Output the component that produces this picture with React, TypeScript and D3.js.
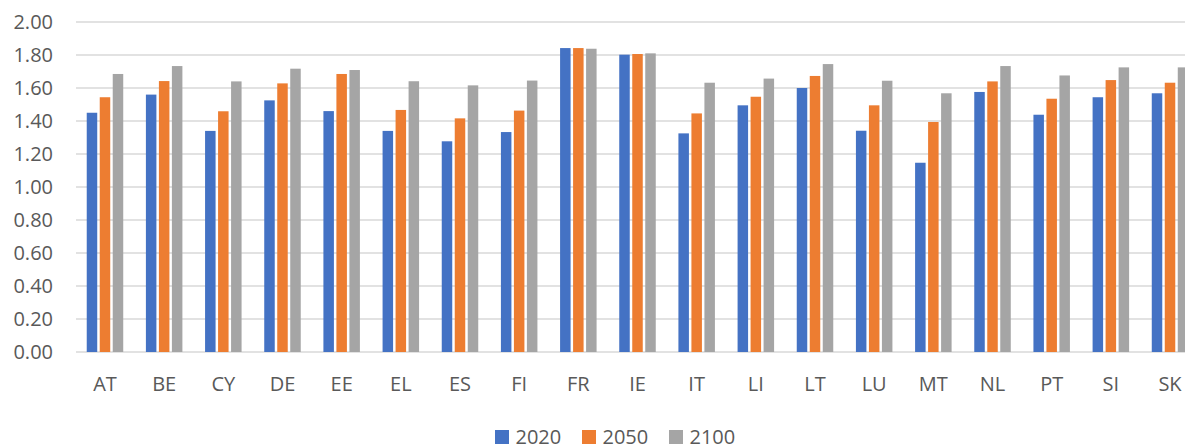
import React from "react";
import * as d3 from "d3";

const categories = ["AT","BE","CY","DE","EE","EL","ES","FI","FR","IE","IT","LI","LT","LU","MT","NL","PT","SI","SK"];
const seriesNames = ["2020","2050","2100"];
const values2020 = [1.45,1.56,1.34,1.525,1.46,1.34,1.277,1.333,1.842,1.802,1.325,1.495,1.60,1.341,1.147,1.576,1.438,1.544,1.568];
const values2050 = [1.544,1.642,1.459,1.628,1.685,1.467,1.416,1.463,1.842,1.806,1.446,1.547,1.673,1.495,1.394,1.640,1.535,1.648,1.632];
const values2100 = [1.685,1.733,1.640,1.717,1.709,1.641,1.616,1.645,1.838,1.810,1.632,1.657,1.745,1.644,1.568,1.733,1.676,1.725,1.725];
const yTicks = [0,0.2,0.4,0.6,0.8,1.0,1.2,1.4,1.6,1.8,2.0];
const colors = ["#4472C4","#ED7D31","#A5A5A5"];

const W = 1185, H = 445;
const FONT = "'Open Sans', sans-serif";

export default function App() {
  const seriesData = [values2020, values2050, values2100];
  const x0 = d3.scaleBand<string>().domain(categories).range([75.4, 1199.6]);
  const x1 = d3.scaleBand<string>().domain(seriesNames).range([0, 39]);
  const y = d3.scaleLinear().domain([0, 2]).range([352, 22]);
  const barW = 10.5;
  const legendX = [495, 582, 669];

  return (
    <div style={{ position: "absolute", left: 0, top: 0 }}>
      <svg width={W} height={H} style={{ display: "block", background: "#fff" }} fontFamily={FONT}>
        {yTicks.map((t) => (
          <g key={t}>
            <line x1={76} x2={1200} y1={y(t)} y2={y(t)} stroke="#D9D9D9" strokeWidth={1.3} />
            <text x={53} y={y(t)} dy="0.35em" textAnchor="end" fontSize={20} fill="#595959">
              {t.toFixed(2)}
            </text>
          </g>
        ))}
        {categories.map((c, i) => {
          const cx = (x0(c) as number) + x0.bandwidth() / 2;
          const gx = cx - 19.5;
          return (
            <g key={c}>
              {seriesNames.map((s, j) => {
                const v = seriesData[j][i];
                const sx = gx + (x1(s) as number) + (x1.bandwidth() - barW) / 2;
                return (
                  <rect key={s} x={sx} y={y(v)} width={barW} height={y(0) - y(v)} fill={colors[j]} />
                );
              })}
              <text x={cx} y={391} textAnchor="middle" fontSize={20} fill="#595959">{c}</text>
            </g>
          );
        })}
        {seriesNames.map((s, j) => (
          <g key={s}>
            <rect x={legendX[j]} y={430} width={14} height={14} fill={colors[j]} />
            <text x={legendX[j] + 20.5} y={444} fontSize={20} fill="#595959">{s}</text>
          </g>
        ))}
      </svg>
    </div>
  );
}
